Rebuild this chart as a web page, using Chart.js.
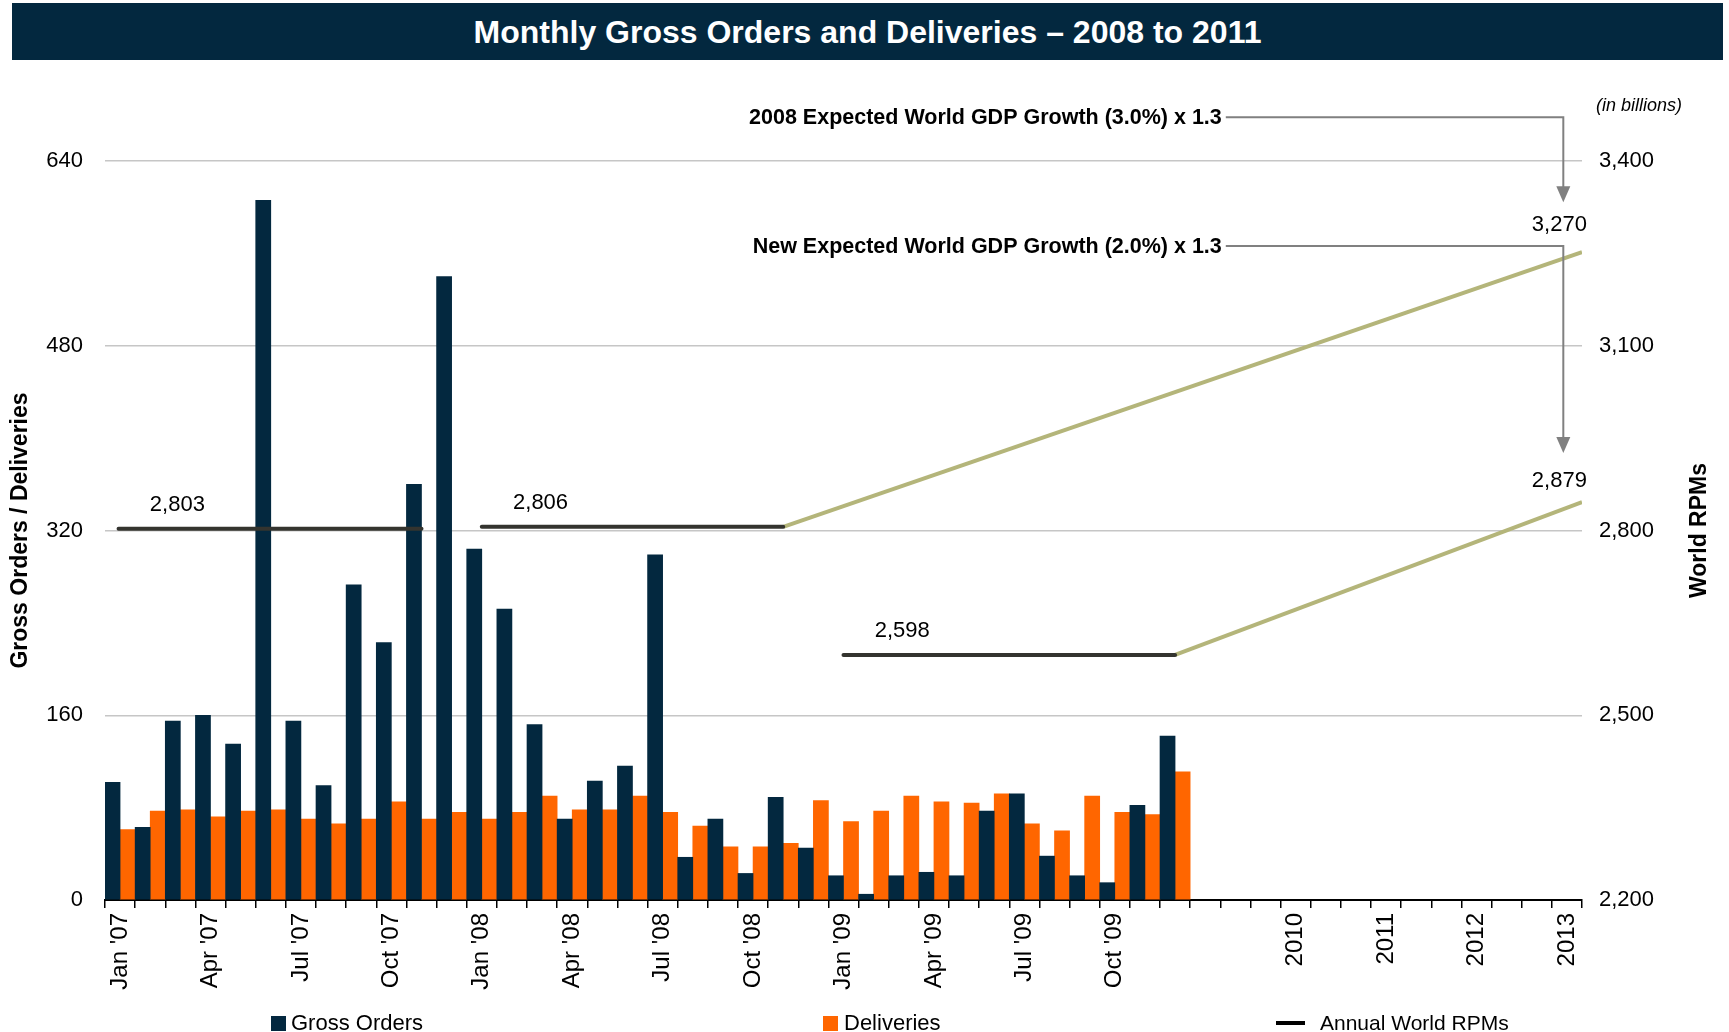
<!DOCTYPE html>
<html>
<head>
<meta charset="utf-8">
<title>Monthly Gross Orders and Deliveries</title>
<script src="https://cdn.jsdelivr.net/npm/chart.js@4.4.1/dist/chart.umd.min.js"></script>
<style>
  body { margin: 0; background: #fff; font-family: "Liberation Sans", Arial, sans-serif; }
  #wrap { position: relative; width: 1729px; height: 1032px; overflow: hidden; }
  #titlebar {
    position: absolute; left: 12px; top: 3px; width: 1711px; height: 57px;
    background: #03283f; color: #fff; font-weight: bold; font-size: 32px;
    line-height: 58px; text-align: center;
  }
  canvas { position: absolute; left: 0; top: 0; }
  .lg { position: absolute; top: 1011px; font-size: 22px; line-height: 24px; color: #000; white-space: nowrap; }
  .sw { position: absolute; }
</style>
</head>
<body>
<div id="wrap">
  <canvas id="chart" width="1729" height="1032"></canvas>
  <div id="titlebar">Monthly Gross Orders and Deliveries – 2008 to 2011</div>
  <div class="sw" style="left:271px;top:1016px;width:15px;height:15px;background:#03283f"></div>
  <div class="lg" style="left:291px">Gross Orders</div>
  <div class="sw" style="left:823px;top:1016px;width:15px;height:15px;background:#ff6600"></div>
  <div class="lg" style="left:844px">Deliveries</div>
  <div class="sw" style="left:1276px;top:1021px;width:29px;height:4px;background:#000"></div>
  <div class="lg" style="left:1320px;font-size:21px">Annual World RPMs</div>
</div>
<script>
// monthly categories, then the yearly projection slots
const months = ["Jan '07", "Feb '07", "Mar '07", "Apr '07", "May '07", "Jun '07",
  "Jul '07", "Aug '07", "Sep '07", "Oct '07", "Nov '07", "Dec '07",
  "Jan '08", "Feb '08", "Mar '08", "Apr '08", "May '08", "Jun '08",
  "Jul '08", "Aug '08", "Sep '08", "Oct '08", "Nov '08", "Dec '08",
  "Jan '09", "Feb '09", "Mar '09", "Apr '09", "May '09", "Jun '09",
  "Jul '09", "Aug '09", "Sep '09", "Oct '09", "Nov '09", "Dec '09"];
const yearSlots = ['', '', '', '2010', '', '', '2011', '', '', '2012', '', '', '2013'];
const shownTicks = ["Jan '07", "Apr '07", "Jul '07", "Oct '07", "Jan '08", "Apr '08", "Jul '08",
  "Oct '08", "Jan '09", "Apr '09", "Jul '09", "Oct '09", '2010', '2011', '2012', '2013'];

const grossOrders = [102, 63, 155, 160, 135, 606, 155, 99, 273, 223, 360, 540,
  304, 252, 152, 70, 103, 116, 299, 37, 70, 23, 89, 45,
  21, 5, 21, 24, 21, 77, 92, 38, 21, 15, 82, 142];
const deliveries = [61, 77, 78, 72, 77, 78, 70, 66, 70, 85, 70, 76,
  70, 76, 90, 78, 78, 90, 76, 64, 46, 46, 49, 86,
  68, 77, 90, 85, 84, 92, 66, 60, 90, 76, 74, 111];

// annual world RPMs (billions), flat over each year, x in month slots
const rpmActual = [2803, 2806, 2598];
const rpmSpans = [[0.45, 10.5], [12.5, 22.5], [24.5, 35.5]];
// projections to 2013
const proj3pct = [2806, 3252];
const proj2pct = [2598, 2846];
const projLabels = ['3,270', '2,879'];
const noteText = ['2008 Expected World GDP Growth (3.0%) x 1.3', 'New Expected World GDP Growth (2.0%) x 1.3'];

const labels = months.concat(yearSlots);
const lastSlot = labels.length;
const FONT = '"Liberation Sans", Arial, sans-serif';

const lineSets = rpmSpans.map((s, i) => ({
  type: 'line',
  label: 'Annual World RPMs',
  data: [{ x: s[0], y: rpmActual[i] }, { x: s[1], y: rpmActual[i] }],
  xAxisID: 'xl', yAxisID: 'y1',
  borderColor: '#34342f', borderWidth: 4, borderCapStyle: 'round',
  pointRadius: 0, order: 0
}));
[proj3pct, proj2pct].forEach((p, i) => {
  const start = rpmSpans[i + 1][1];
  lineSets.push({
    type: 'line',
    label: 'Projection',
    data: [{ x: start, y: p[0] }, { x: lastSlot, y: p[1] }],
    xAxisID: 'xl', yAxisID: 'y1',
    borderColor: '#b4b57a', borderWidth: 4,
    pointRadius: 0, order: 0
  });
});

const notes = {
  id: 'notes',
  afterDraw(chart) {
    const ctx = chart.ctx;
    const xl = chart.scales.xl, y1 = chart.scales.y1;
    const area = chart.chartArea;
    ctx.save();

    // axis titles
    ctx.fillStyle = '#000';
    ctx.textAlign = 'center';
    ctx.textBaseline = 'middle';
    ctx.font = 'bold 23px ' + FONT;
    const midY = (area.top + area.bottom) / 2;
    ctx.save(); ctx.translate(21, midY); ctx.rotate(-Math.PI / 2);
    ctx.fillText('Gross Orders / Deliveries', 0, 0); ctx.restore();
    ctx.save(); ctx.translate(1700, midY); ctx.rotate(-Math.PI / 2);
    ctx.fillText('World RPMs', 0, 0); ctx.restore();

    ctx.font = 'italic 18px ' + FONT;
    ctx.textAlign = 'right';
    ctx.fillText('(in billions)', 1682, 106);

    // value labels over the RPM lines
    ctx.font = '22px ' + FONT;
    ctx.textAlign = 'center';
    rpmSpans.forEach((s, i) => {
      ctx.fillText(rpmActual[i].toLocaleString('en-US'),
        xl.getPixelForValue(s[0] + 1.95), y1.getPixelForValue(rpmActual[i]) - 24);
    });
    const labX = xl.getPixelForValue(48.25);
    ctx.fillText(projLabels[0], labX, y1.getPixelForValue(proj3pct[1]) - 27);
    ctx.fillText(projLabels[1], labX, y1.getPixelForValue(proj2pct[1]) - 21);

    // GDP growth notes with arrows
    const arrowX = xl.getPixelForValue(48.38);
    const textRight = xl.getPixelForValue(37.05);
    const rows = [
      { y: y1.getPixelForValue(3471), tip: y1.getPixelForValue(3333) },
      { y: y1.getPixelForValue(3262), tip: y1.getPixelForValue(2926) }
    ];
    rows.forEach((r, i) => {
      ctx.fillStyle = '#000';
      ctx.font = 'bold 21.5px ' + FONT;
      ctx.textAlign = 'right';
      ctx.fillText(noteText[i], textRight, r.y + 1);
      ctx.strokeStyle = '#808080';
      ctx.lineWidth = 2;
      ctx.beginPath();
      ctx.moveTo(textRight + 4, r.y);
      ctx.lineTo(arrowX, r.y);
      ctx.lineTo(arrowX, r.tip - 14);
      ctx.stroke();
      ctx.fillStyle = '#808080';
      ctx.beginPath();
      ctx.moveTo(arrowX - 7, r.tip - 16);
      ctx.lineTo(arrowX + 7, r.tip - 16);
      ctx.lineTo(arrowX, r.tip);
      ctx.closePath();
      ctx.fill();
    });
    ctx.restore();
  }
};

new Chart(document.getElementById('chart'), {
  type: 'bar',
  data: {
    labels: labels,
    datasets: [
      {
        label: 'Gross Orders',
        data: grossOrders.map((v, i) => ({ x: i + 0.25, y: v })),
        backgroundColor: '#03283f',
        xAxisID: 'xl', yAxisID: 'y',
        grouped: false, categoryPercentage: 1, barPercentage: 1,
        order: 1
      },
      {
        label: 'Deliveries',
        data: deliveries.map((v, i) => ({ x: i + 0.75, y: v })),
        backgroundColor: '#ff6600',
        xAxisID: 'xl', yAxisID: 'y',
        grouped: false, categoryPercentage: 1, barPercentage: 1,
        order: 1
      }
    ].concat(lineSets)
  },
  options: {
    responsive: false,
    animation: false,
    layout: { padding: { top: 161, left: 0, right: 0, bottom: 0 } },
    plugins: {
      legend: { display: false },
      tooltip: { enabled: false }
    },
    scales: {
      x: {
        type: 'category',
        offset: true,
        afterFit: s => { s.height = 132; },
        grid: {
          offset: true, drawOnChartArea: false, drawTicks: true,
          tickLength: 8, color: '#000', lineWidth: 1.5
        },
        border: { display: true, color: '#000', width: 2 },
        ticks: {
          autoSkip: false, maxRotation: 90, minRotation: 90, padding: 5,
          color: '#000', font: { family: FONT, size: 24 },
          callback: function (v) {
            const l = this.getLabelForValue(v);
            return shownTicks.includes(l) ? l : '';
          }
        }
      },
      xl: {
        type: 'linear', display: false, offset: false,
        grid: { offset: false },
        min: 0, max: lastSlot
      },
      y: {
        position: 'left',
        min: 0, max: 640,
        afterFit: s => { s.width = 105; },
        grid: { color: '#c6c6c6', lineWidth: 1.5, drawTicks: false },
        border: { display: false },
        ticks: {
          stepSize: 160, padding: 22, color: '#000',
          font: { family: FONT, size: 22 }
        }
      },
      y1: {
        position: 'right',
        min: 2200, max: 3400,
        afterFit: s => { s.width = 147; },
        grid: { display: false, drawTicks: false },
        border: { display: false },
        ticks: {
          stepSize: 300, padding: 17, color: '#000',
          font: { family: FONT, size: 22 },
          callback: v => v.toLocaleString('en-US')
        }
      }
    }
  },
  plugins: [notes]
});
</script>
</body>
</html>
